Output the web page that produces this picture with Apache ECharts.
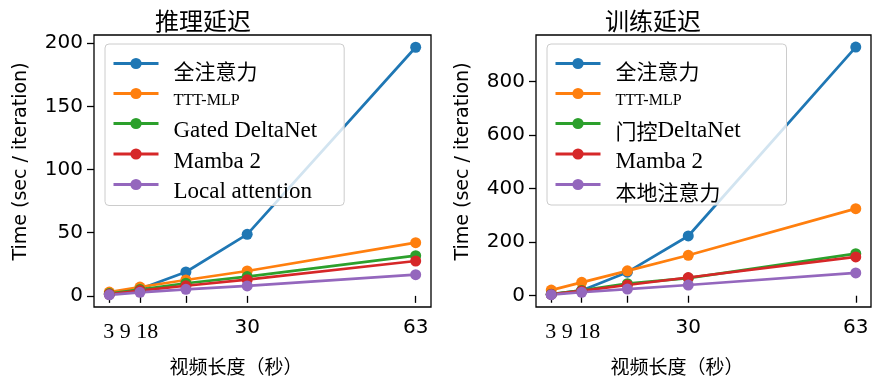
<!DOCTYPE html>
<html>
<head>
<meta charset="utf-8">
<script src="https://cdn.jsdelivr.net/npm/echarts@6/dist/echarts.min.js"></script>
<style>
html,body{margin:0;padding:0;background:#fff;}
#chart{width:877px;height:381px;}
</style>
</head>
<body>
<div id="chart"></div>
<script>
// ---- data ----
var videoSeconds = [3, 9, 18, 30, 63];
var xTickValues = [3, 9, 18, 30, 63];
var xLabelValues = [3, 30, 63];
var xLabelTexts = {3: '3 9 18', 30: '30', 63: '63'};
var yTicksInference = [0, 50, 100, 150, 200];
var yTicksTraining = [0, 200, 400, 600, 800];

var inferenceTitle = '推理延迟';
var trainingTitle = '训练延迟';
var xAxisName = '视频长度（秒）';
var yAxisName = 'Time (sec / iteration)';

var inferenceNames = ['全注意力', 'TTT-MLP', 'Gated DeltaNet', 'Mamba 2', 'Local attention'];
var trainingNames = ['全注意力', 'TTT-MLP', '门控DeltaNet', 'Mamba 2', '本地注意力'];

var fullAttnInf   = [1.5, 5.5, 18.9, 48.7, 196.8];
var tttMlpInf     = [3.0, 7.0, 12.6, 19.7, 42.1];
var gatedDeltaInf = [1.8, 5.0, 10.0, 15.3, 31.8];
var mamba2Inf     = [1.3, 4.2, 8.0, 12.8, 27.6];
var localAttnInf  = [0.8, 2.8, 5.2, 7.9, 16.8];

var fullAttnTrain   = [5, 20, 88, 223, 928];
var tttMlpTrain     = [21, 50, 93, 151, 325];
var gatedDeltaTrain = [6, 20, 45, 66, 157];
var mamba2Train     = [5, 18, 40, 68, 145];
var localAttnTrain  = [4, 13, 25, 40, 85];

var colors = ['#1f77b4', '#ff7f0e', '#2ca02c', '#d62728', '#9467bd'];

// ---- build ----
function pairs(vals) { return videoSeconds.map(function (x, i) { return [x, vals[i]]; }); }

var infSets = [fullAttnInf, tttMlpInf, gatedDeltaInf, mamba2Inf, localAttnInf];
var trSets = [fullAttnTrain, tttMlpTrain, gatedDeltaTrain, mamba2Train, localAttnTrain];

var series = [];
function addSeries(names, sets, idx) {
  names.forEach(function (n, i) {
    series.push({
      type: 'line', name: n, xAxisIndex: idx, yAxisIndex: idx,
      data: pairs(sets[i]), symbol: 'circle', symbolSize: 11, showSymbol: true,
      lineStyle: {color: colors[i], width: 2.7},
      itemStyle: {color: colors[i]},
      emphasis: {disabled: true},
      animation: false
    });
  });
}
addSeries(inferenceNames, infSets, 0);
addSeries(trainingNames, trSets, 1);

function legendFmt(name) {
  if (name === 'TTT-MLP') return '{s|' + name + '}';
  return name.replace(/[\u4e00-\u9fff]+/g, function (m) { return '{c|' + m + '}'; });
}
function legend(names, left, padRight) {
  return {
    data: names.map(function (n, i) {
      return {name: n, lineStyle: {width: 3, color: colors[i]}, itemStyle: {color: colors[i]}};
    }),
    orient: 'vertical', left: left, top: 44,
    itemWidth: 45, itemHeight: 14, itemGap: -7,
    padding: [1, padRight, 2, 7],
    backgroundColor: 'rgba(255,255,255,0.8)',
    borderColor: '#cccccc', borderWidth: 1, borderRadius: 4,
    selectedMode: false,
    lineStyle: {width: 3},
    formatter: legendFmt,
    textStyle: {
      fontFamily: 'Liberation Serif', fontSize: 23, lineHeight: 22, color: '#000',
      padding: [15, 0, 0, 10],
      rich: {
        c: {fontFamily: 'Noto Sans CJK SC', fontSize: 21, lineHeight: 22, color: '#000'},
        s: {fontFamily: 'Liberation Serif', fontSize: 16, lineHeight: 22, color: '#000'}
      }
    }
  };
}

function xAxis(idx) {
  return {
    gridIndex: idx, type: 'value', min: 0, max: 66,
    name: xAxisName, nameLocation: 'middle', nameGap: 50,
    nameTextStyle: {fontFamily: 'Noto Sans CJK SC', fontSize: 19, color: '#000', padding: [0, 53, 0, 0]},
    axisLine: {show: false},
    splitLine: {show: false},
    axisTick: {show: true, customValues: xTickValues, length: 7, lineStyle: {color: '#000', width: 1.3}},
    axisLabel: {
      customValues: xLabelValues, margin: 11,
      fontFamily: 'DejaVu Sans', fontSize: 20, color: '#000',
      formatter: function (v) { return v === 3 ? '{a|' + xLabelTexts[3] + '}' : xLabelTexts[v]; },
      rich: {a: {fontFamily: 'Liberation Serif', fontSize: 22, color: '#000', padding: [3, 0, 0, 43]}}
    }
  };
}
function yAxis(idx, min, max, ticks) {
  return {
    gridIndex: idx, type: 'value', min: min, max: max,
    name: yAxisName, nameLocation: 'middle', nameGap: 63, nameRotate: 90,
    nameTextStyle: {fontFamily: 'DejaVu Sans', fontSize: 19, color: '#000', padding: [0, 0, 0, 19]},
    axisLine: {show: false},
    splitLine: {show: false},
    axisTick: {show: true, customValues: ticks, length: 7, lineStyle: {color: '#000', width: 1.3}},
    axisLabel: {customValues: ticks, margin: 11, fontFamily: 'DejaVu Sans', fontSize: 20, color: '#000'}
  };
}

var option = {
  backgroundColor: '#fff',
  animation: false,
  title: [
    {text: inferenceTitle, left: 155, top: 9, padding: 0,
     textStyle: {fontFamily: 'Noto Sans CJK SC', fontSize: 24, fontWeight: 'normal', color: '#000'}},
    {text: trainingTitle, left: 605, top: 9, padding: 0,
     textStyle: {fontFamily: 'Noto Sans CJK SC', fontSize: 24, fontWeight: 'normal', color: '#000'}}
  ],
  grid: [
    {left: 94, top: 35, width: 337, height: 273, show: true, borderColor: '#000', borderWidth: 1.3, backgroundColor: 'transparent'},
    {left: 536, top: 35, width: 335, height: 273, show: true, borderColor: '#000', borderWidth: 1.3, backgroundColor: 'transparent'}
  ],
  xAxis: [xAxis(0), xAxis(1)],
  yAxis: [yAxis(0, -8.8, 206.5, yTicksInference), yAxis(1, -42, 973, yTicksTraining)],
  legend: [legend(inferenceNames, 105, 27), legend(trainingNames, 547, 46)],
  series: series
};

var chart = echarts.init(document.getElementById('chart'), null, {renderer: 'canvas'});
chart.setOption(option);
</script>
</body>
</html>
